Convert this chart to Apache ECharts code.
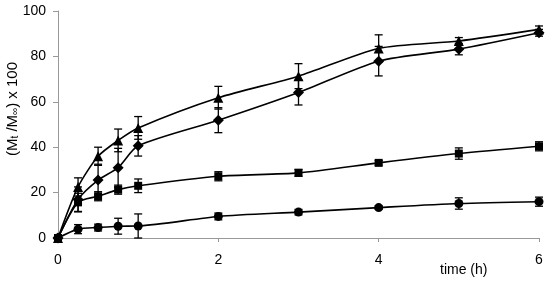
<!DOCTYPE html>
<html>
<head>
<meta charset="utf-8">
<script src="https://cdn.jsdelivr.net/npm/echarts@6/dist/echarts.min.js"></script>
<style>
  html, body { margin: 0; padding: 0; background: #fff; }
  #main { width: 550px; height: 284px; }
</style>
</head>
<body>
<div id="main"></div>
<script>
// time points (h)
var times = [0, 0.25, 0.5, 0.75, 1, 2, 3, 4, 5, 6];

// release values (Mt/Minf x 100) and error (+/-)
var triangleVals = [0, 22.5, 36, 43, 48.5, 61.8, 71.3, 83.5, 86.8, 91.9];
var triangleErr = [0, 4, 4, 5, 5, 5, 5.5, 6, 1.5, 1.5];
var diamondVals = [0, 17, 25.5, 31, 40.6, 51.9, 64.1, 77.9, 83.2, 90.4];
var diamondErr = [0, 5.5, 7, 8.5, 4.5, 5.5, 5.5, 6.5, 2.5, 1.5];
var squareVals = [0, 15.7, 18.4, 21.3, 23, 27.2, 28.7, 33.1, 37.2, 40.4];
var squareErr = [0, 4, 2, 2, 3, 2, 1.5, 1, 2.5, 2];
var circleVals = [0, 3.9, 4.6, 5.2, 5.3, 9.5, 11.4, 13.4, 15.2, 16];
var circleErr = [0, 2, 1.5, 3.5, 5.3, 1.5, 1.2, 0.8, 2.5, 2];

var xTicks = [0, 2, 4, 6];
var yTicks = [0, 20, 40, 60, 80, 100];

function pairs(vals) {
  return times.map(function (t, i) { return [t, vals[i]]; });
}
function errData(vals, errs) {
  return times.map(function (t, i) { return [t, vals[i] - errs[i], vals[i] + errs[i]]; });
}

function renderErr(params, api) {
  var lo = api.coord([api.value(0), api.value(1)]);
  var hi = api.coord([api.value(0), api.value(2)]);
  var w = 4;
  var st = { stroke: '#000', lineWidth: 1.3 };
  return {
    type: 'group',
    children: [
      { type: 'line', shape: { x1: lo[0], y1: lo[1], x2: hi[0], y2: hi[1] }, style: st },
      { type: 'line', shape: { x1: lo[0] - w, y1: lo[1], x2: lo[0] + w, y2: lo[1] }, style: st },
      { type: 'line', shape: { x1: hi[0] - w, y1: hi[1], x2: hi[0] + w, y2: hi[1] }, style: st }
    ]
  };
}

function lineSeries(name, vals, symbol, size) {
  return {
    name: name,
    type: 'line',
    data: pairs(vals),
    smooth: 0.25,
    symbol: symbol,
    symbolSize: size,
    itemStyle: { color: '#000' },
    lineStyle: { color: '#000', width: 1.6 },
    z: 3
  };
}
function errSeries(vals, errs) {
  return {
    type: 'custom',
    renderItem: renderErr,
    data: errData(vals, errs),
    encode: { x: 0, y: [1, 2] },
    silent: true,
    z: 2
  };
}

var chart = echarts.init(document.getElementById('main'));
var option = {
  animation: false,
  backgroundColor: '#fff',
  textStyle: { fontFamily: 'Liberation Sans, Arial, sans-serif' },
  grid: { left: 58, right: 11, top: 11, bottom: 46, outerBoundsMode: 'none', containLabel: false },
  xAxis: {
    type: 'value',
    min: xTicks[0],
    max: xTicks[xTicks.length - 1],
    interval: 2,
    axisLine: { lineStyle: { color: '#999', width: 1 } },
    axisTick: { show: true, length: 4, lineStyle: { color: '#999' } },
    axisLabel: { color: '#000', fontSize: 14, margin: 15 },
    splitLine: { show: false }
  },
  yAxis: {
    type: 'value',
    min: yTicks[0],
    max: yTicks[yTicks.length - 1],
    interval: 20,
    axisLine: { show: true, lineStyle: { color: '#999', width: 1 } },
    axisTick: { show: true, length: 5, lineStyle: { color: '#999' } },
    axisLabel: { color: '#000', fontSize: 14, margin: 12 },
    splitLine: { show: false }
  },
  graphic: [{
    type: 'text',
    left: 440,
    top: 263,
    style: { text: 'time (h)', fill: '#000', font: '14px Liberation Sans' }
  }, {
    type: 'text',
    x: 13,
    y: 109,
    rotation: Math.PI / 2,
    style: {
      text: '{n|(M}{s|t}{n| /M}{s|∞}{n|) x 100}',
      align: 'center',
      verticalAlign: 'middle',
      rich: {
        n: { fontSize: 15, fill: '#000', fontFamily: 'Liberation Sans' },
        s: { fontSize: 10, fill: '#000', fontFamily: 'Liberation Sans', verticalAlign: 'bottom' }
      }
    }
  }],
  series: [
    errSeries(circleVals, circleErr),
    errSeries(squareVals, squareErr),
    errSeries(diamondVals, diamondErr),
    errSeries(triangleVals, triangleErr),
    lineSeries('circle', circleVals, 'circle', 9),
    lineSeries('square', squareVals, 'rect', 8),
    lineSeries('diamond', diamondVals, 'diamond', 11),
    lineSeries('triangle', triangleVals, 'triangle', 10)
  ]
};
option && chart.setOption(option);
</script>
</body>
</html>
